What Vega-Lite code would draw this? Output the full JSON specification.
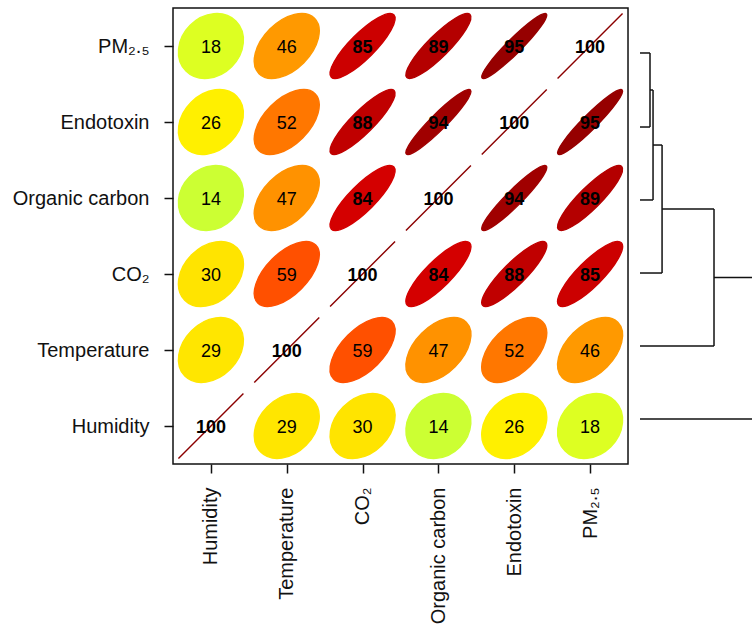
{
  "$schema": "https://vega.github.io/schema/vega-lite/v6.json",
  "width": 579,
  "height": 456,
  "autosize": {"type": "none"},
  "padding": {"left": 173, "top": 8, "right": 0, "bottom": 168},
  "background": "white",
  "config": {
    "view": {"stroke": null},
    "font": "Liberation Sans",
    "axis": {"grid": false, "domain": false, "title": null, "labelFont": "Liberation Sans", "labelFontSize": 20, "labelColor": "#111", "tickColor": "#111", "tickSize": 9, "tickWidth": 1.5}
  },
  "datasets": {
    "cells": [
      {"row": "Humidity", "col": "Humidity", "r": 100},
      {"row": "Humidity", "col": "Temperature", "r": 29},
      {"row": "Humidity", "col": "CO₂", "r": 30},
      {"row": "Humidity", "col": "Organic carbon", "r": 14},
      {"row": "Humidity", "col": "Endotoxin", "r": 26},
      {"row": "Humidity", "col": "PM₂.₅", "r": 18},
      {"row": "Temperature", "col": "Humidity", "r": 29},
      {"row": "Temperature", "col": "Temperature", "r": 100},
      {"row": "Temperature", "col": "CO₂", "r": 59},
      {"row": "Temperature", "col": "Organic carbon", "r": 47},
      {"row": "Temperature", "col": "Endotoxin", "r": 52},
      {"row": "Temperature", "col": "PM₂.₅", "r": 46},
      {"row": "CO₂", "col": "Humidity", "r": 30},
      {"row": "CO₂", "col": "Temperature", "r": 59},
      {"row": "CO₂", "col": "CO₂", "r": 100},
      {"row": "CO₂", "col": "Organic carbon", "r": 84},
      {"row": "CO₂", "col": "Endotoxin", "r": 88},
      {"row": "CO₂", "col": "PM₂.₅", "r": 85},
      {"row": "Organic carbon", "col": "Humidity", "r": 14},
      {"row": "Organic carbon", "col": "Temperature", "r": 47},
      {"row": "Organic carbon", "col": "CO₂", "r": 84},
      {"row": "Organic carbon", "col": "Organic carbon", "r": 100},
      {"row": "Organic carbon", "col": "Endotoxin", "r": 94},
      {"row": "Organic carbon", "col": "PM₂.₅", "r": 89},
      {"row": "Endotoxin", "col": "Humidity", "r": 26},
      {"row": "Endotoxin", "col": "Temperature", "r": 52},
      {"row": "Endotoxin", "col": "CO₂", "r": 88},
      {"row": "Endotoxin", "col": "Organic carbon", "r": 94},
      {"row": "Endotoxin", "col": "Endotoxin", "r": 100},
      {"row": "Endotoxin", "col": "PM₂.₅", "r": 95},
      {"row": "PM₂.₅", "col": "Humidity", "r": 18},
      {"row": "PM₂.₅", "col": "Temperature", "r": 46},
      {"row": "PM₂.₅", "col": "CO₂", "r": 85},
      {"row": "PM₂.₅", "col": "Organic carbon", "r": 89},
      {"row": "PM₂.₅", "col": "Endotoxin", "r": 95},
      {"row": "PM₂.₅", "col": "PM₂.₅", "r": 100}
    ],
    "dendro": [
      {"x": 6.158, "x2": 6.290, "y": 5.408, "y2": 5.408},
      {"x": 6.158, "x2": 6.290, "y": 4.434, "y2": 4.434},
      {"x": 6.290, "x2": 6.290, "y": 4.434, "y2": 5.408},
      {"x": 6.290, "x2": 6.330, "y": 4.921, "y2": 4.921},
      {"x": 6.158, "x2": 6.330, "y": 3.474, "y2": 3.474},
      {"x": 6.330, "x2": 6.330, "y": 3.474, "y2": 4.921},
      {"x": 6.330, "x2": 6.449, "y": 4.197, "y2": 4.197},
      {"x": 6.158, "x2": 6.449, "y": 2.513, "y2": 2.513},
      {"x": 6.449, "x2": 6.449, "y": 2.513, "y2": 4.197},
      {"x": 6.449, "x2": 7.134, "y": 3.355, "y2": 3.355},
      {"x": 6.158, "x2": 7.134, "y": 1.553, "y2": 1.553},
      {"x": 7.134, "x2": 7.134, "y": 1.553, "y2": 3.355},
      {"x": 7.134, "x2": 7.8, "y": 2.454, "y2": 2.454},
      {"x": 6.158, "x2": 7.8, "y": 0.592, "y2": 0.592},
      {"x": 7.8, "x2": 7.8, "y": 0.592, "y2": 2.454}
    ],
    "frame": [{"x": 0, "x2": 6, "y": 0, "y2": 6}]
  },
  "layer": [
    {
      "data": {"name": "cells"},
      "mark": {"type": "point", "filled": true, "opacity": 1, "strokeWidth": 1.4, "size": 4225},
      "encoding": {
        "x": {"field": "col", "type": "ordinal", "sort": null,
          "scale": {"type": "point", "domain": ["Humidity", "Temperature", "CO₂", "Organic carbon", "Endotoxin", "PM₂.₅"], "range": [0, 455], "padding": 0.5},
          "axis": {"orient": "bottom", "labelAngle": -90, "labelPadding": 14, "labelAlign": "right", "labelBaseline": "middle"}},
        "y": {"field": "row", "type": "ordinal", "sort": null,
          "scale": {"type": "point", "domain": ["PM₂.₅", "Endotoxin", "Organic carbon", "CO₂", "Temperature", "Humidity"], "range": [0, 456], "padding": 0.5},
          "axis": {"orient": "left", "labelPadding": 15}},
        "shape": {"field": "r", "type": "nominal", "legend": null,
          "scale": {"domain": [14, 18, 26, 29, 30, 46, 47, 52, 59, 84, 85, 88, 89, 94, 95, 100],
            "range": [
              "M0.755,-0.755C0.393,-1.117,-0.239,-1.073,-0.656,-0.656C-1.073,-0.239,-1.117,0.393,-0.755,0.755C-0.393,1.117,0.239,1.073,0.656,0.656C1.073,0.239,1.117,-0.393,0.755,-0.755Z",
              "M0.768,-0.768C0.415,-1.122,-0.216,-1.065,-0.640,-0.640C-1.065,-0.216,-1.122,0.415,-0.768,0.768C-0.415,1.122,0.216,1.065,0.640,0.640C1.065,0.216,1.122,-0.415,0.768,-0.768Z",
              "M0.794,-0.794C0.458,-1.130,-0.170,-1.047,-0.608,-0.608C-1.047,-0.170,-1.130,0.458,-0.794,0.794C-0.458,1.130,0.170,1.047,0.608,0.608C1.047,0.170,1.130,-0.458,0.794,-0.794Z",
              "M0.803,-0.803C0.474,-1.132,-0.152,-1.039,-0.596,-0.596C-1.039,-0.152,-1.132,0.474,-0.803,0.803C-0.474,1.132,0.152,1.039,0.596,0.596C1.039,0.152,1.132,-0.474,0.803,-0.803Z",
              "M0.806,-0.806C0.480,-1.133,-0.146,-1.037,-0.592,-0.592C-1.037,-0.146,-1.133,0.480,-0.806,0.806C-0.480,1.133,0.146,1.037,0.592,0.592C1.037,0.146,1.133,-0.480,0.806,-0.806Z",
              "M0.854,-0.854C0.567,-1.141,-0.048,-0.992,-0.520,-0.520C-0.992,-0.048,-1.141,0.567,-0.854,0.854C-0.567,1.141,0.048,0.992,0.520,0.520C0.992,0.048,1.141,-0.567,0.854,-0.854Z",
              "M0.857,-0.857C0.573,-1.142,-0.041,-0.988,-0.515,-0.515C-0.988,-0.041,-1.142,0.573,-0.857,0.857C-0.573,1.142,0.041,0.988,0.515,0.515C0.988,0.041,1.142,-0.573,0.857,-0.857Z",
              "M0.872,-0.872C0.601,-1.142,-0.008,-0.971,-0.490,-0.490C-0.971,-0.008,-1.142,0.601,-0.872,0.872C-0.601,1.142,0.008,0.971,0.490,0.490C0.971,0.008,1.142,-0.601,0.872,-0.872Z",
              "M0.892,-0.892C0.642,-1.142,0.040,-0.945,-0.453,-0.453C-0.945,0.040,-1.142,0.642,-0.892,0.892C-0.642,1.142,-0.040,0.945,0.453,0.453C0.945,-0.040,1.142,-0.642,0.892,-0.892Z",
              "M0.959,-0.959C0.803,-1.115,0.247,-0.813,-0.283,-0.283C-0.813,0.247,-1.115,0.803,-0.959,0.959C-0.803,1.115,-0.247,0.813,0.283,0.283C0.813,-0.247,1.115,-0.803,0.959,-0.959Z",
              "M0.962,-0.962C0.811,-1.113,0.257,-0.805,-0.274,-0.274C-0.805,0.257,-1.113,0.811,-0.962,0.962C-0.811,1.113,-0.257,0.805,0.274,0.274C0.805,-0.257,1.113,-0.811,0.962,-0.962Z",
              "M0.970,-0.970C0.834,-1.105,0.291,-0.780,-0.245,-0.245C-0.780,0.291,-1.105,0.834,-0.970,0.970C-0.834,1.105,-0.291,0.780,0.245,0.245C0.780,-0.291,1.105,-0.834,0.970,-0.970Z",
              "M0.972,-0.972C0.843,-1.102,0.302,-0.771,-0.235,-0.235C-0.771,0.302,-1.102,0.843,-0.972,0.972C-0.843,1.102,-0.302,0.771,0.235,0.235C0.771,-0.302,1.102,-0.843,0.972,-0.972Z",
              "M0.985,-0.985C0.889,-1.081,0.371,-0.717,-0.173,-0.173C-0.717,0.371,-1.081,0.889,-0.985,0.985C-0.889,1.081,-0.371,0.717,0.173,0.173C0.717,-0.371,1.081,-0.889,0.985,-0.985Z",
              "M0.987,-0.987C0.900,-1.075,0.387,-0.704,-0.158,-0.158C-0.704,0.387,-1.075,0.900,-0.987,0.987C-0.900,1.075,-0.387,0.704,0.158,0.158C0.704,-0.387,1.075,-0.900,0.987,-0.987Z",
              "M1,-1L-1,1"
            ]}},
        "color": {"field": "r", "type": "nominal", "legend": null,
          "scale": {"domain": [14, 18, 26, 29, 30, 46, 47, 52, 59, 84, 85, 88, 89, 94, 95, 100],
            "range": ["#CCFF33", "#DDFF22", "#FFF000", "#FFE600", "#FFE400", "#FF9900", "#FF9200", "#FF7700", "#FF5000", "#D40000", "#CC0000", "#C00000", "#B40000", "#A00000", "#960000", "#8B0000"]}},
        "stroke": {"field": "r", "type": "nominal", "legend": null,
          "scale": {"domain": [14, 18, 26, 29, 30, 46, 47, 52, 59, 84, 85, 88, 89, 94, 95, 100],
            "range": ["#CCFF33", "#DDFF22", "#FFF000", "#FFE600", "#FFE400", "#FF9900", "#FF9200", "#FF7700", "#FF5000", "#D40000", "#CC0000", "#C00000", "#B40000", "#A00000", "#960000", "#8B0000"]}}
      }
    },
    {
      "data": {"name": "cells"},
      "transform": [{"filter": "datum.r < 84"}],
      "mark": {"type": "text", "fontSize": 18, "color": "#000", "align": "center", "baseline": "middle", "dy": 2, "font": "Liberation Sans"},
      "encoding": {
        "x": {"field": "col", "type": "ordinal", "sort": null, "axis": null,
          "scale": {"type": "point", "domain": ["Humidity", "Temperature", "CO₂", "Organic carbon", "Endotoxin", "PM₂.₅"], "range": [0, 455], "padding": 0.5}},
        "y": {"field": "row", "type": "ordinal", "sort": null, "axis": null,
          "scale": {"type": "point", "domain": ["PM₂.₅", "Endotoxin", "Organic carbon", "CO₂", "Temperature", "Humidity"], "range": [0, 456], "padding": 0.5}},
        "text": {"field": "r", "type": "quantitative"}
      }
    },
    {
      "data": {"name": "cells"},
      "transform": [{"filter": "datum.r >= 84"}],
      "mark": {"type": "text", "fontSize": 18, "fontWeight": "bold", "color": "#000", "align": "center", "baseline": "middle", "dy": 2, "font": "Liberation Sans"},
      "encoding": {
        "x": {"field": "col", "type": "ordinal", "sort": null, "axis": null,
          "scale": {"type": "point", "domain": ["Humidity", "Temperature", "CO₂", "Organic carbon", "Endotoxin", "PM₂.₅"], "range": [0, 455], "padding": 0.5}},
        "y": {"field": "row", "type": "ordinal", "sort": null, "axis": null,
          "scale": {"type": "point", "domain": ["PM₂.₅", "Endotoxin", "Organic carbon", "CO₂", "Temperature", "Humidity"], "range": [0, 456], "padding": 0.5}},
        "text": {"field": "r", "type": "quantitative"}
      }
    },
    {
      "data": {"name": "frame"},
      "mark": {"type": "rect", "fill": null, "stroke": "#111", "strokeWidth": 1.5},
      "encoding": {
        "x": {"field": "x", "type": "quantitative", "axis": null, "scale": {"domain": [0, 7.635], "nice": false, "zero": false}},
        "x2": {"field": "x2"},
        "y": {"field": "y", "type": "quantitative", "axis": null, "scale": {"domain": [0, 6], "nice": false, "zero": false}},
        "y2": {"field": "y2"}
      }
    },
    {
      "data": {"name": "dendro"},
      "mark": {"type": "rule", "stroke": "#111", "strokeWidth": 1.5, "clip": true},
      "encoding": {
        "x": {"field": "x", "type": "quantitative", "axis": null, "scale": {"domain": [0, 7.635], "nice": false, "zero": false}},
        "x2": {"field": "x2"},
        "y": {"field": "y", "type": "quantitative", "axis": null, "scale": {"domain": [0, 6], "nice": false, "zero": false}},
        "y2": {"field": "y2"}
      }
    }
  ],
  "resolve": {"scale": {"x": "independent", "y": "independent"}}
}
